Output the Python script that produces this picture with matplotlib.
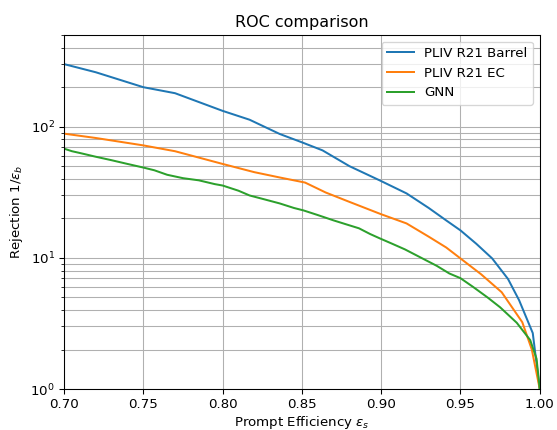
import matplotlib
matplotlib.use("Agg")
import matplotlib.pyplot as plt
import numpy as np

# PLIV R21 Barrel
eff_barrel = [0.70, 0.72, 0.75, 0.77, 0.80, 0.817, 0.836, 0.85, 0.863, 0.88, 0.899, 0.916,
              0.93, 0.941, 0.95, 0.96, 0.970, 0.98, 0.987, 0.9956, 1.0]
rej_barrel = [300, 260, 200, 180, 132, 113, 88, 76, 66, 50, 39, 31,
              24, 19.3, 16.2, 12.8, 9.9, 6.9, 4.75, 2.67, 1.0]

# PLIV R21 EC
eff_ec = [0.70, 0.72, 0.75, 0.77, 0.80, 0.82, 0.836, 0.852, 0.865, 0.879, 0.90, 0.916,
          0.93, 0.941, 0.950, 0.963, 0.976, 0.989, 0.995, 1.0]
rej_ec = [88.5, 82, 72, 65, 52, 45, 41, 37.5, 31.5, 27, 21.5, 18.3,
          14.5, 12, 9.9, 7.5, 5.47, 3.23, 2.0, 1.0]

# GNN
eff_gnn = [0.70, 0.705, 0.71, 0.72, 0.73, 0.74, 0.75, 0.757, 0.765, 0.775, 0.785, 0.795,
           0.80, 0.81, 0.817, 0.826, 0.836, 0.845, 0.851, 0.86, 0.870, 0.878, 0.886,
           0.893, 0.899, 0.907, 0.915, 0.926, 0.935, 0.943, 0.950, 0.958, 0.967,
           0.975, 0.9855, 0.994, 0.998, 1.0]
rej_gnn = [68, 65, 63, 59, 55.5, 52, 48.8, 46.5, 43, 40.5, 39, 36.5,
           35.6, 32.5, 29.9, 28, 26, 24, 23, 21.2, 19.3, 18, 16.8,
           15.2, 14.1, 12.8, 11.6, 9.9, 8.7, 7.6, 7.0, 6.0, 5.0,
           4.2, 3.2, 2.36, 1.7, 1.0]

dpi = 96
fig = plt.figure(figsize=(557 / dpi, 430 / dpi), dpi=dpi)
ax = fig.add_axes([0.115, 0.0953, 0.854, 0.8233])
ax.plot(eff_barrel, rej_barrel, label="PLIV R21 Barrel")
ax.plot(eff_ec, rej_ec, label="PLIV R21 EC")
ax.plot(eff_gnn, rej_gnn, label="GNN")
ax.set_yscale("log")
ax.set_xlim(0.70, 1.00)
ax.set_ylim(1, 500)
ax.grid(which="both")
ax.set_xlabel(r"Prompt Efficiency $\epsilon_s$", labelpad=2)
ax.set_ylabel(r"Rejection 1/$\epsilon_b$")
ax.set_title("ROC comparison")
ax.legend(loc="upper right")
fig.savefig("out.png", dpi=dpi)
